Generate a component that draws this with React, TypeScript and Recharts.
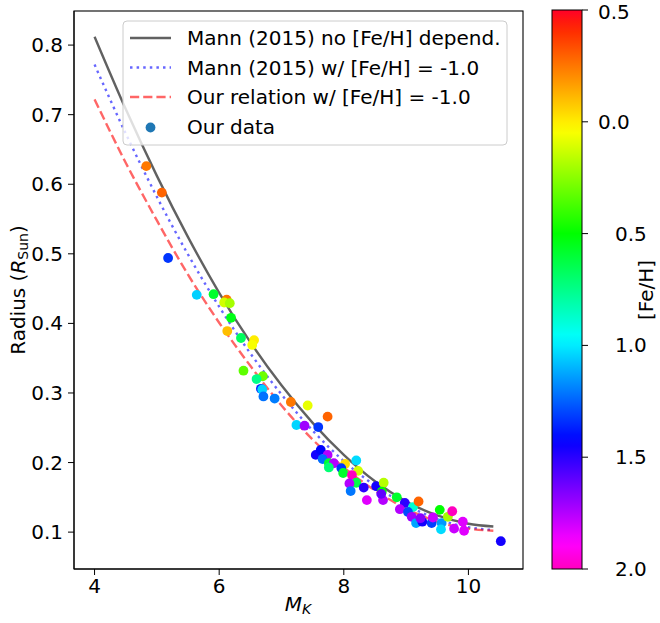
import React from 'react';
import { ComposedChart, Line, Scatter, XAxis, YAxis } from 'recharts';

// Curves (M_K grid, radius in R_Sun)
const MK_GRID = [4.0, 4.5, 5.0, 5.5, 6.0, 6.5, 7.0, 7.5, 8.0, 8.5, 9.0, 9.5, 10.0, 10.4];
const MANN_NO_FEH = [0.812, 0.708, 0.612, 0.524, 0.444, 0.373, 0.311, 0.257, 0.211, 0.173, 0.144, 0.124, 0.112, 0.108];
const MANN_FEH_M1 = [0.772, 0.673, 0.582, 0.499, 0.424, 0.357, 0.298, 0.246, 0.202, 0.167, 0.139, 0.119, 0.107, 0.103];
const OUR_FEH_M1 = [0.722, 0.631, 0.548, 0.470, 0.401, 0.339, 0.282, 0.233, 0.193, 0.160, 0.134, 0.115, 0.105, 0.102];

// Our data
const MK_VALUES = [
  4.83, 5.08, 5.18, 5.64, 5.91, 6.12, 6.08, 6.17, 6.19, 6.13,
  6.35, 6.56, 6.53, 6.39, 6.70, 6.60, 6.67, 6.69, 6.71, 6.89,
  7.15, 7.42, 7.74, 7.24, 7.37, 7.59, 7.55, 7.63, 7.74, 7.66,
  7.76, 7.84, 7.76, 8.02, 8.20, 7.96, 7.99, 8.23, 8.13, 8.20,
  8.09, 8.11, 8.32, 8.37, 8.52, 8.64, 8.61, 8.63, 8.60, 8.85,
  8.98, 9.11, 9.20, 8.90, 9.03, 9.09, 9.16, 9.26, 9.23, 9.41,
  9.43, 9.54, 9.57, 9.56, 9.67, 9.74, 9.77, 9.91, 9.93, 10.52,
];
const RADIUS_VALUES = [
  0.626, 0.588, 0.494, 0.441, 0.442, 0.434, 0.430, 0.429, 0.408, 0.389,
  0.379, 0.376, 0.369, 0.332, 0.324, 0.320, 0.306, 0.305, 0.295, 0.292,
  0.287, 0.282, 0.266, 0.254, 0.253, 0.251, 0.211, 0.218, 0.211, 0.205,
  0.199, 0.199, 0.193, 0.198, 0.203, 0.192, 0.185, 0.188, 0.182, 0.171,
  0.170, 0.159, 0.164, 0.146, 0.166, 0.171, 0.158, 0.146, 0.155, 0.150,
  0.142, 0.136, 0.144, 0.133, 0.129, 0.122, 0.113, 0.115, 0.120, 0.113,
  0.121, 0.132, 0.113, 0.104, 0.122, 0.130, 0.105, 0.115, 0.102, 0.087,
];
const FEH_VALUES = [
  0.25, 0.29, -1.33, -1.05, -0.58, 0.25, -0.12, -0.20, -0.54, 0.10,
  -0.67, 0.00, -0.05, -0.33, -0.30, -0.75, -1.38, -1.04, -1.22, -1.20,
  0.25, -0.08, 0.29, -1.04, -1.71, -1.33, -1.46, -1.42, -1.75, -1.23,
  -0.58, -1.75, -0.71, 0.04, -1.03, -1.33, -0.58, -0.12, -2.00, -0.63,
  -1.75, -1.21, -1.50, -1.83, -1.46, -0.17, -0.50, -1.75, -1.60, -0.58,
  -1.50, -0.88, 0.29, -1.75, -1.29, -1.71, -1.13, -1.46, -1.67, -1.31,
  -1.79, -0.50, -1.15, -1.03, -0.20, -2.00, -1.79, -1.83, -1.83, -1.46,
];

const X_TICKS = [4, 6, 8, 10];
const Y_TICKS = [0.1, 0.2, 0.3, 0.4, 0.5, 0.6, 0.7, 0.8];
const CBAR_TICKS = [0.5, 0.0, -0.5, -1.0, -1.5, -2.0];
const FEH_MIN = -2.0;
const FEH_MAX = 0.5;

const FONT = 'DejaVu Sans';
const FS = 20;
const FS_SUB = 14;

// gist_rainbow_r colormap
const CM_R: [number, number][] = [[0, 1], [0.03, 1], [0.215, 1], [0.4, 0], [0.586, 0], [0.77, 0], [0.954, 1], [1, 1]];
const CM_G: [number, number][] = [[0, 0], [0.215, 1], [0.4, 1], [0.586, 1], [0.77, 0], [0.954, 0], [1, 0]];
const CM_B: [number, number][] = [[0, 0.16], [0.03, 0], [0.215, 0], [0.4, 0], [0.586, 1], [0.77, 1], [0.954, 1], [1, 0.75]];
function interp(seg: [number, number][], t: number) {
  for (let i = 0; i < seg.length - 1; i++) {
    const [a, va] = seg[i];
    const [b, vb] = seg[i + 1];
    if (t >= a && t <= b) return va + ((t - a) / (b - a || 1)) * (vb - va);
  }
  return seg[seg.length - 1][1];
}
function fehColor(fe: number) {
  const s = Math.max(0, Math.min(1, (fe - FEH_MIN) / (FEH_MAX - FEH_MIN)));
  const t = 1 - s;
  const r = Math.round(interp(CM_R, t) * 255);
  const g = Math.round(interp(CM_G, t) * 255);
  const b = Math.round(interp(CM_B, t) * 255);
  return `rgb(${r},${g},${b})`;
}

const lineData = (vals: number[]) => MK_GRID.map((x, i) => ({ x, y: vals[i] }));
const points = MK_VALUES.map((x, i) => ({ x, y: RADIUS_VALUES[i], fe: FEH_VALUES[i] }));

// layout
const PL = 74, PT = 11, PR = 523, PB = 569;
const CB_X = 552, CB_W = 30, CB_T = 10, CB_B = 569;

const BLACK = 'rgba(0,0,0,0.62)';
const BLUE = 'rgba(0,0,255,0.6)';
const RED = 'rgba(255,0,0,0.6)';
const LW = 2.4;
const DOTTED = '2.5 4.1';
const DASHED = '9.2 4';

const Dot = (props: any) => {
  const { cx, cy, payload } = props;
  if (cx == null || cy == null) return null;
  return <circle cx={cx} cy={cy} r={4.9} fill={fehColor(payload.fe)} />;
};

export default function App() {
  const gradStops = [];
  for (let i = 0; i <= 50; i++) {
    const f = i / 50;
    const fe = FEH_MAX - f * (FEH_MAX - FEH_MIN);
    gradStops.push(<stop key={i} offset={`${f * 100}%`} stopColor={fehColor(fe)} />);
  }
  const cbY = (v: number) => CB_T + ((FEH_MAX - v) / (FEH_MAX - FEH_MIN)) * (CB_B - CB_T);
  const tickStyle = { fill: '#000', fontSize: FS, fontFamily: FONT };
  const legendRows = [38, 67.5, 97, 126.5];
  return (
    <div style={{ position: 'absolute', left: 0, top: 0, width: 660, height: 623, background: '#fff' }}>
      <ComposedChart width={660} height={623} margin={{ top: PT, right: 660 - PR, bottom: 0, left: 0 }}>
        <XAxis
          type="number"
          dataKey="x"
          domain={[3.67, 10.876]}
          ticks={X_TICKS}
          allowDataOverflow
          height={623 - PB}
          tickSize={6}
          tickMargin={4}
          stroke="#000"
          tick={tickStyle}
        />
        <YAxis
          type="number"
          dataKey="y"
          domain={[0.047, 0.849]}
          ticks={Y_TICKS}
          allowDataOverflow
          width={PL}
          tickSize={6}
          tickMargin={5}
          stroke="#000"
          tick={tickStyle}
          tickFormatter={(v: number) => v.toFixed(1)}
        />
        <Scatter data={points} dataKey="y" isAnimationActive={false} shape={Dot} />
        <Line data={lineData(MANN_NO_FEH)} dataKey="y" type="monotone" stroke={BLACK} strokeWidth={LW} dot={false} isAnimationActive={false} />
        <Line data={lineData(MANN_FEH_M1)} dataKey="y" type="monotone" stroke={BLUE} strokeWidth={LW} strokeDasharray={DOTTED} dot={false} isAnimationActive={false} />
        <Line data={lineData(OUR_FEH_M1)} dataKey="y" type="monotone" stroke={RED} strokeWidth={LW} strokeDasharray={DASHED} dot={false} isAnimationActive={false} />
      </ComposedChart>
      <svg width={660} height={623} style={{ position: 'absolute', left: 0, top: 0, pointerEvents: 'none' }} fontFamily={FONT}>
        <defs>
          <linearGradient id="cbar" x1="0" y1="0" x2="0" y2="1">{gradStops}</linearGradient>
        </defs>
        {/* frame */}
        <rect x={PL} y={PT} width={PR - PL} height={PB - PT} fill="none" stroke="#000" strokeWidth={1.1} />
        {/* legend */}
        <rect x={123} y={21} width={384} height={124} rx={4} fill="#fff" fillOpacity={0.8} stroke="#ccc" strokeWidth={1} />
        <line x1={130} x2={171} y1={legendRows[0]} y2={legendRows[0]} stroke={BLACK} strokeWidth={LW} />
        <line x1={130} x2={171} y1={legendRows[1]} y2={legendRows[1]} stroke={BLUE} strokeWidth={LW} strokeDasharray={DOTTED} />
        <line x1={130} x2={171} y1={legendRows[2]} y2={legendRows[2]} stroke={RED} strokeWidth={LW} strokeDasharray={DASHED} />
        <circle cx={150.5} cy={legendRows[3] + 1} r={4.9} fill="#1f77b4" />
        <text x={187} y={legendRows[0]} fontSize={FS} dominantBaseline="central">Mann (2015) no [Fe/H] depend.</text>
        <text x={187} y={legendRows[1]} fontSize={FS} dominantBaseline="central">Mann (2015) w/ [Fe/H] = -1.0</text>
        <text x={187} y={legendRows[2]} fontSize={FS} dominantBaseline="central">Our relation w/ [Fe/H] = -1.0</text>
        <text x={187} y={legendRows[3]} fontSize={FS} dominantBaseline="central">Our data</text>
        {/* axis labels */}
        <text x={298} y={611} fontSize={FS} textAnchor="middle">
          <tspan fontStyle="italic">M</tspan>
          <tspan fontStyle="italic" fontSize={FS_SUB} dy={3}>K</tspan>
        </text>
        <text transform="translate(25,290) rotate(-90)" fontSize={FS} textAnchor="middle">
          Radius (<tspan fontStyle="italic">R</tspan>
          <tspan fontSize={FS_SUB} dy={3}>Sun</tspan>
          <tspan dy={-3}>)</tspan>
        </text>
        {/* colorbar */}
        <rect x={CB_X} y={CB_T} width={CB_W} height={CB_B - CB_T} fill="url(#cbar)" stroke="#000" strokeWidth={1} />
        {CBAR_TICKS.map((v, i) => (
          <g key={v}>
            <line x1={CB_X + CB_W} x2={CB_X + CB_W + 6} y1={cbY(v)} y2={cbY(v)} stroke="#000" strokeWidth={1} />
            <text x={v < 0 ? 615 : 598} y={cbY(v) + (i === 0 ? 2 : 0)} fontSize={FS} dominantBaseline="central">{Math.abs(v).toFixed(1)}</text>
          </g>
        ))}
        <text transform="translate(646,290) rotate(-90)" fontSize={FS} textAnchor="middle" dominantBaseline="central">[Fe/H]</text>
      </svg>
    </div>
  );
}
